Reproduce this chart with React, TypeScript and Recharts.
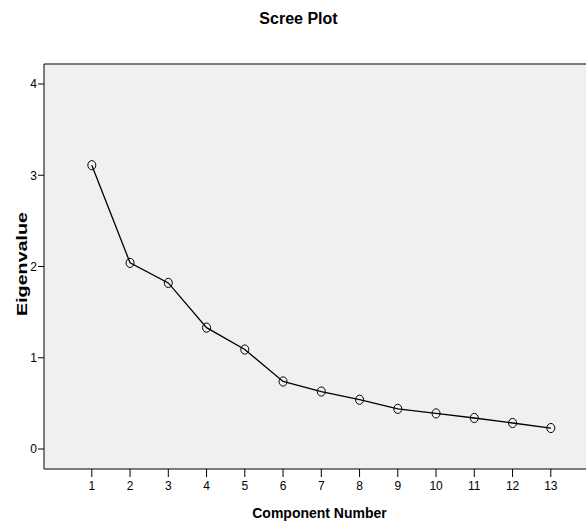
import React from "react";
import { LineChart, Line, XAxis, YAxis, CartesianGrid, ReferenceLine } from "recharts";

const components = [1, 2, 3, 4, 5, 6, 7, 8, 9, 10, 11, 12, 13];
const eigenvalues = [3.11, 2.04, 1.82, 1.33, 1.09, 0.74, 0.63, 0.54, 0.44, 0.39, 0.34, 0.285, 0.23];
const yTicks = [0, 1, 2, 3, 4];
const xTicks = components;

const title = "Scree Plot";
const xLabel = "Component Number";
const yLabel = "Eigenvalue";

const X_MIN = -0.25;
const X_MAX = 13.92;
const Y_MIN = -0.219;
const Y_MAX = 4.219;

const data = components.map((c, i) => ({ component: c, eigenvalue: eigenvalues[i] }));

const FONT = "'Liberation Sans', Arial, sans-serif";

const CircleDot = (props: any) => {
  const { cx, cy, index } = props;
  if (cx == null || cy == null) return null;
  return <ellipse key={index} cx={cx} cy={cy} rx={4} ry={4.6} fill="none" stroke="#000" strokeWidth={1} />;
};

export default function App() {
  return (
    <div style={{ position: "absolute", left: 0, top: 0, width: 586, height: 524, background: "#fff", overflow: "hidden" }}>
      <LineChart
        width={586}
        height={524}
        data={data}
        margin={{ top: 64, right: 0, bottom: 0, left: 0 }}
      >
        <CartesianGrid horizontal={false} vertical={false} fill="#F0F0F0" />
        <XAxis
          dataKey="component"
          type="number"
          domain={[X_MIN, X_MAX]}
          ticks={xTicks}
          allowDataOverflow
          height={55}
          tickSize={8}
          tickMargin={4}
          axisLine={{ stroke: "#000", strokeWidth: 1 }}
          tickLine={{ stroke: "#000", strokeWidth: 1 }}
          tick={{ fill: "#000", fontSize: 12, fontFamily: FONT }}
          interval={0}
        />
        <YAxis
          type="number"
          domain={[Y_MIN, Y_MAX]}
          ticks={yTicks}
          allowDataOverflow
          width={44}
          tickSize={6}
          tickMargin={1}
          axisLine={{ stroke: "#000", strokeWidth: 1 }}
          tickLine={{ stroke: "#000", strokeWidth: 1 }}
          tick={{ fill: "#000", fontSize: 12, fontFamily: FONT }}
          interval={0}
        />
        <ReferenceLine y={Y_MAX} stroke="#000" strokeWidth={1} ifOverflow="visible" />
        <Line
          type="linear"
          dataKey="eigenvalue"
          stroke="#000"
          strokeWidth={1.3}
          dot={<CircleDot />}
          activeDot={false}
          isAnimationActive={false}
        />
      </LineChart>
      <svg
        width={586}
        height={524}
        style={{ position: "absolute", left: 0, top: 0, pointerEvents: "none" }}
      >
        <text x={298.5} y={24} textAnchor="middle" fontFamily={FONT} fontWeight="bold" fontSize={16} fill="#000">
          {title}
        </text>
        <text x={319.5} y={518} textAnchor="middle" fontFamily={FONT} fontWeight="bold" fontSize={14} fill="#000">
          {xLabel}
        </text>
        <text
          x={0}
          y={0}
          transform="translate(26.5,264) rotate(-90)"
          textAnchor="middle"
          fontFamily={FONT}
          fontWeight="bold"
          fontSize={15.5}
          textLength={104}
          lengthAdjust="spacingAndGlyphs"
          fill="#000"
        >
          {yLabel}
        </text>
      </svg>
    </div>
  );
}
